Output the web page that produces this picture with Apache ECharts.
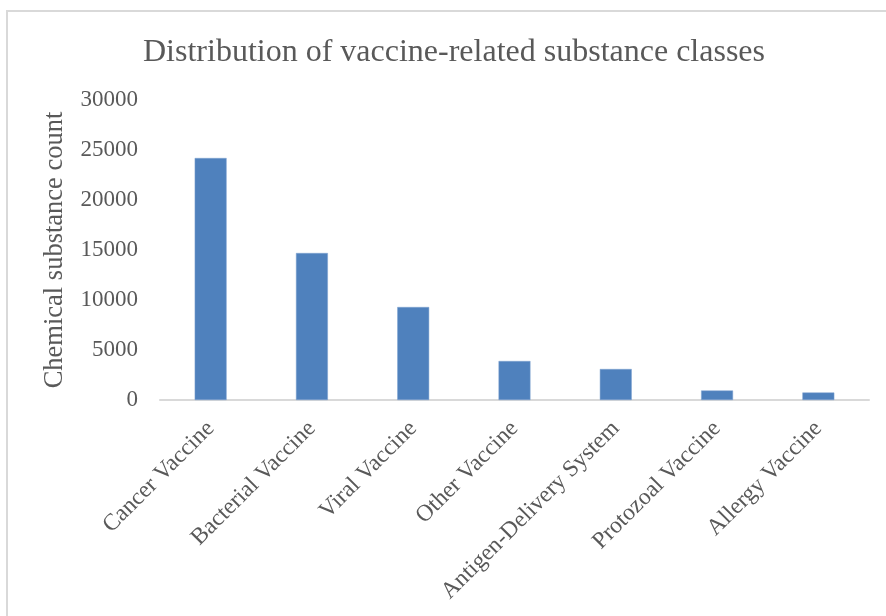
<!DOCTYPE html>
<html>
<head>
<meta charset="utf-8">
<script src="https://cdn.jsdelivr.net/npm/echarts@6/dist/echarts.min.js"></script>
<style>html,body{margin:0;padding:0;background:#fff}#c{width:886px;height:616px}</style>
</head>
<body>
<div id="c"></div>
<script>
const categories = ['Cancer Vaccine','Bacterial Vaccine','Viral Vaccine','Other Vaccine','Antigen-Delivery System','Protozoal Vaccine','Allergy Vaccine'];
const counts = [24200, 14700, 9300, 3900, 3100, 950, 750];
const yTicks = [0, 5000, 10000, 15000, 20000, 25000, 30000];

const font = '"Liberation Serif", "Times New Roman", serif';
const chart = echarts.init(document.getElementById('c'));
chart.setOption({
  animation: false,
  backgroundColor: '#fff',
  title: {
    text: 'Distribution of vaccine-related substance classes',
    left: 138, top: 32,
    textStyle: { fontFamily: font, fontSize: 32, fontWeight: 'normal', color: '#595959' }
  },
  graphic: [{
    type: 'rect', silent: true,
    shape: { x: 7, y: 11, width: 900, height: 700 },
    style: { fill: null, stroke: '#d9d9d9', lineWidth: 2 }
  }],
  grid: { left: 160, right: 17, top: 100, bottom: 216 },
  xAxis: {
    type: 'category', data: categories,
    axisLine: { lineStyle: { color: '#d9d9d9', width: 2 } },
    axisTick: { show: false },
    axisLabel: { rotate: 45, margin: 25, interval: 0, fontFamily: font, fontSize: 23.5, color: '#595959' }
  },
  yAxis: {
    type: 'value', min: yTicks[0], max: yTicks[yTicks.length-1], interval: 5000,
    name: 'Chemical substance count', nameLocation: 'middle', nameGap: 91,
    nameTextStyle: { fontFamily: font, fontSize: 26.5, color: '#595959' },
    axisLine: { show: false }, axisTick: { show: false },
    splitLine: { show: false },
    axisLabel: { margin: 22, fontFamily: font, fontSize: 23, color: '#595959', formatter: v => String(v) }
  },
  series: [{
    type: 'bar', data: counts, barWidth: '31.5%',
    itemStyle: { color: '#4F81BD', borderColor: '#7ea3d1', borderWidth: 0.5 }
  }]
});
</script>
</body>
</html>
